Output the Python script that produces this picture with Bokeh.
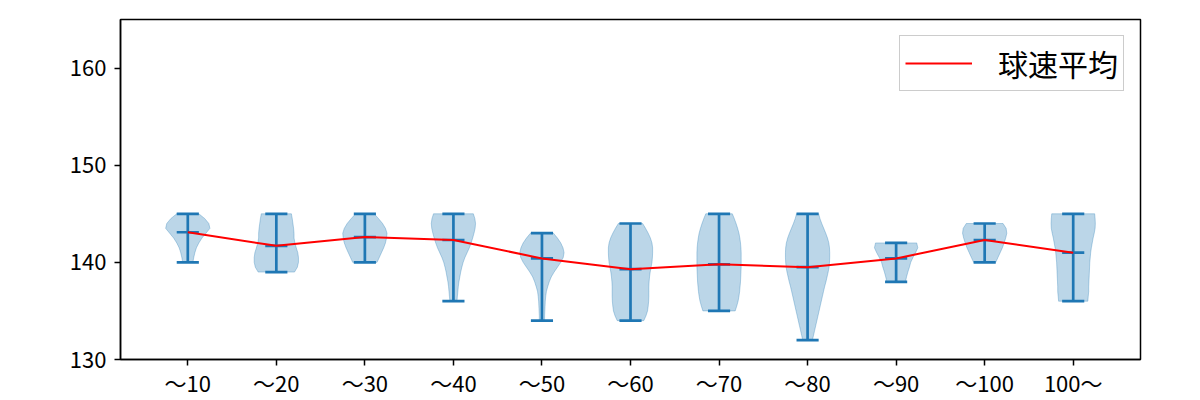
from bokeh.plotting import figure
from bokeh.models import Range1d, FixedTicker, Legend, LegendItem
from bokeh.embed import file_html
from bokeh.resources import INLINE

# ---- data ----
categories = ["～10", "～20", "～30", "～40", "～50", "～60", "～70", "～80", "～90", "～100", "100～"]
speed_min = [140, 139, 140, 136, 134, 134, 135, 132, 138, 140, 136]
speed_max = [145, 145, 145, 145, 143, 144, 145, 145, 142, 144, 145]
speed_mean = [143.1, 141.7, 142.6, 142.3, 140.4, 139.3, 139.8, 139.5, 140.4, 142.3, 141.0]
y_ticks = [130, 140, 150, 160]
legend_label = "球速平均"

# relative violin widths (density, max = 1) every 0.5 km/h from speed_min upward
density_step = 0.5
dens_10 = [0.23, 0.27, 0.32, 0.39, 0.50, 0.64, 0.82, 1.00, 0.95, 0.77, 0.50]
dens_20 = [0.82, 0.95, 1.00, 1.00, 0.97, 0.90, 0.84, 0.80, 0.80, 0.78, 0.75, 0.72, 0.68]
dens_30 = [0.55, 0.65, 0.75, 0.85, 0.93, 0.98, 1.00, 0.93, 0.80, 0.62, 0.42]
dens_40 = [0.16, 0.18, 0.20, 0.22, 0.25, 0.29, 0.33, 0.38, 0.44, 0.52, 0.62, 0.72,
           0.80, 0.87, 0.93, 0.98, 1.00, 0.97, 0.90]
dens_50 = [0.12, 0.12, 0.13, 0.14, 0.15, 0.17, 0.20, 0.26, 0.33, 0.42, 0.55, 0.70,
           0.85, 0.96, 1.00, 0.95, 0.85, 0.70, 0.52]
dens_60 = [0.60, 0.70, 0.77, 0.80, 0.82, 0.83, 0.83, 0.83, 0.84, 0.86, 0.89, 0.93,
           0.97, 0.99, 1.00, 1.00, 0.97, 0.90, 0.80, 0.68, 0.55]
dens_70 = [0.73, 0.80, 0.86, 0.90, 0.93, 0.95, 0.97, 0.98, 0.99, 1.00, 1.00, 1.00,
           1.00, 0.99, 0.97, 0.94, 0.90, 0.84, 0.77, 0.69, 0.60]
dens_80 = [0.22, 0.27, 0.32, 0.37, 0.42, 0.47, 0.52, 0.57, 0.62, 0.67, 0.72, 0.77,
           0.83, 0.88, 0.93, 0.97, 0.99, 1.00, 1.00, 0.99, 0.96, 0.90, 0.82, 0.73,
           0.64, 0.56, 0.50]
dens_90 = [0.42, 0.47, 0.53, 0.60, 0.66, 0.76, 0.88, 0.98, 0.93]
dens_100 = [0.50, 0.60, 0.70, 0.80, 0.88, 0.95, 1.00, 0.97, 0.83]
dens_over = [0.66, 0.68, 0.70, 0.70, 0.71, 0.72, 0.73, 0.74, 0.75, 0.77, 0.79, 0.82,
             0.86, 0.90, 0.95, 0.99, 1.00, 0.99, 0.97]
densities = [dens_10, dens_20, dens_30, dens_40, dens_50, dens_60, dens_70,
             dens_80, dens_90, dens_100, dens_over]

# ---- styling ----
BLUE = "#1f77b4"
FONT = "Noto Sans CJK JP"
violin_width = 0.5          # full width of a violin in x units (matplotlib default)
cap_half = violin_width / 4

positions = list(range(1, len(categories) + 1))

p = figure(width=1200, height=400, output_backend="svg", toolbar_location=None,
           x_range=Range1d(0.24, 11.76), y_range=Range1d(130, 165),
           min_border_left=120, min_border_right=60, min_border_top=19,
           min_border_bottom=40)
p.background_fill_color = "white"
p.border_fill_color = "white"
p.xgrid.visible = False
p.ygrid.visible = False
p.outline_line_color = "black"
p.outline_line_width = 1.5
p.outline_line_alpha = 1

# violin bodies
xs, ys = [], []
for pos, lo, dens in zip(positions, speed_min, densities):
    yv = [lo + density_step * k for k in range(len(dens))]
    right = [pos + violin_width / 2 * d for d in dens]
    left = [pos - violin_width / 2 * d for d in dens]
    xs.append(right + left[::-1])
    ys.append(yv + yv[::-1])
p.patches(xs, ys, fill_color=BLUE, fill_alpha=0.3, line_color=BLUE,
          line_alpha=0.3, line_width=1)

# vertical bars, caps and mean ticks
lw = 2.7
p.segment(x0=positions, y0=speed_min, x1=positions, y1=speed_max,
          line_color=BLUE, line_width=lw)
for vals in (speed_min, speed_max, speed_mean):
    p.segment(x0=[x - cap_half for x in positions], y0=vals,
              x1=[x + cap_half for x in positions], y1=vals,
              line_color=BLUE, line_width=lw)

# mean line
mean_line = p.line(positions, speed_mean, line_color="red", line_width=2)

legend = Legend(items=[LegendItem(label=legend_label, renderers=[mean_line])],
                location="top_right")
legend.label_text_font = FONT
legend.label_text_font_size = "30px"
legend.label_text_color = "black"
legend.border_line_color = "#cccccc"
legend.border_line_width = 1.5
legend.border_line_alpha = 1
legend.background_fill_alpha = 1
legend.glyph_width = 67
legend.label_standoff = 26
legend.padding = 5
legend.margin = 16
legend.label_height = 30
legend.glyph_height = 30
p.add_layout(legend)

# axes
for ax in (p.xaxis, p.yaxis):
    ax.axis_line_color = "black"
    ax.axis_line_width = 1.5
    ax.major_tick_line_color = "black"
    ax.major_tick_line_width = 1.5
    ax.major_tick_out = 6
    ax.major_tick_in = 0
    ax.minor_tick_line_color = None
    ax.major_label_text_font = FONT
    ax.major_label_text_font_size = "22px"
    ax.major_label_text_color = "black"

p.yaxis.major_label_standoff = 8
p.xaxis.major_label_standoff = 0

p.xaxis.ticker = FixedTicker(ticks=positions)
p.xaxis.major_label_overrides = {pos: lab for pos, lab in zip(positions, categories)}
p.yaxis.ticker = FixedTicker(ticks=y_ticks)

open("out.html", "w").write(file_html(p, INLINE))
